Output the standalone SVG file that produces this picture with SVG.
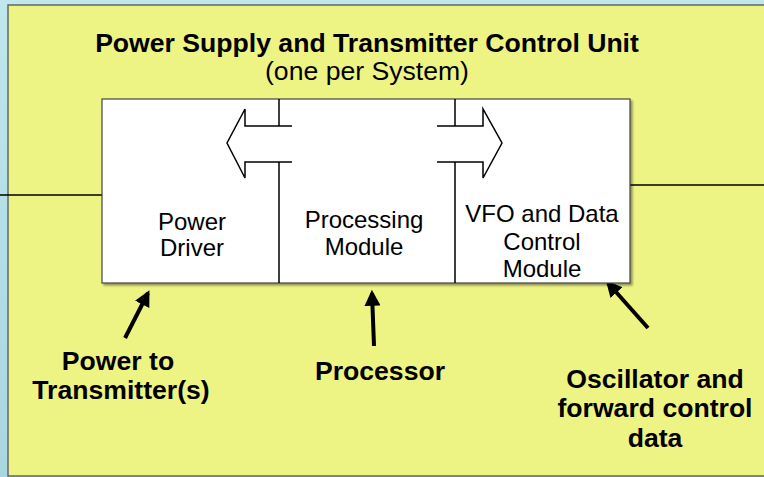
<svg xmlns="http://www.w3.org/2000/svg" width="764" height="477" viewBox="0 0 764 477">
  <defs>
    <linearGradient id="bg" x1="0" y1="0" x2="0" y2="1">
      <stop offset="0" stop-color="#bfe7ec"/>
      <stop offset="1" stop-color="#a9d6e0"/>
    </linearGradient>
    <marker id="ah" markerWidth="4" markerHeight="4" refX="3.2" refY="2" orient="auto" markerUnits="strokeWidth">
      <path d="M0,0 L4,2 L0,4 z" fill="#000"/>
    </marker>
    <filter id="sh" x="-5%" y="-5%" width="110%" height="110%">
      <feDropShadow dx="2" dy="2" stdDeviation="1" flood-color="#000" flood-opacity="0.4"/>
    </filter>
  </defs>
  <style>
    .t { font-family: "Liberation Sans", Arial, sans-serif; fill: #000; text-anchor: middle; }
    .b { font-weight: bold; font-size: 26.6px; }
    .n { font-size: 24px; }
    .ln { stroke: #000; stroke-width: 1.5; fill: none; }
    .pt { stroke: #000; stroke-width: 4; fill: none; marker-end: url(#ah); }
  </style>
  <rect x="0" y="0" width="764" height="477" fill="url(#bg)"/>
  <rect id="panel" x="8" y="5" width="770" height="471" fill="#eef484" stroke="#666" stroke-width="1.5"/>

  <g id="connectors">
    <line class="ln" x1="0" y1="195" x2="102" y2="195"/>
    <line class="ln" x1="630" y1="185" x2="764" y2="185"/>
    <line class="pt" x1="125" y1="338" x2="148" y2="293"/>
    <line class="pt" x1="374" y1="346" x2="372" y2="293"/>
    <line class="pt" x1="648" y1="328" x2="608" y2="283"/>
  </g>

  <g id="title">
    <text class="t b" x="367" y="52">Power Supply and Transmitter Control Unit</text>
    <text class="t" style="font-size:26.6px" x="367" y="80">(one per System)</text>
  </g>

  <g id="unit">
    <rect x="102" y="99" width="528" height="184" fill="#fff" stroke="#444" stroke-width="1.2" filter="url(#sh)"/>
    <path class="ln" d="M279,99 V126 M279,162 V283 M455,99 V126 M455,162 V283"/>
    <path class="ln" d="M292,126 H245 V109 L227,143 L245,178 V162 H292"/>
    <path class="ln" d="M437,126 H483 V109 L502,143 L483,178 V162 H437"/>
  </g>

  <g id="power-driver">
    <text class="t n" x="192" y="230">Power</text>
    <text class="t n" x="192" y="256">Driver</text>
  </g>
  <g id="processing-module">
    <text class="t n" x="364" y="228">Processing</text>
    <text class="t n" x="364" y="255">Module</text>
  </g>
  <g id="vfo-module">
    <text class="t n" x="542" y="222">VFO and Data</text>
    <text class="t n" x="542" y="250">Control</text>
    <text class="t n" x="542" y="277">Module</text>
  </g>

  <g id="label-power">
    <text class="t b" x="118" y="370">Power to</text>
    <text class="t b" x="121" y="399">Transmitter(s)</text>
  </g>
  <g id="label-processor">
    <text class="t b" x="380" y="380">Processor</text>
  </g>
  <g id="label-oscillator">
    <text class="t b" x="655" y="388">Oscillator and</text>
    <text class="t b" x="655" y="417">forward control</text>
    <text class="t b" x="655" y="447">data</text>
  </g>
</svg>
